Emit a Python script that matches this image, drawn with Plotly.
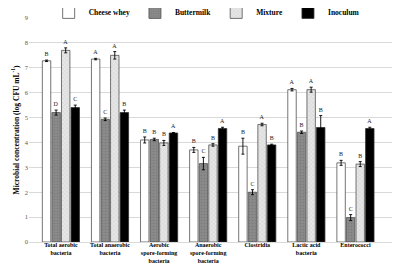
import plotly.graph_objects as go

categories = ["Total aerobic<br>bacteria", "Total anaerobic<br>bacteria",
              "Aerobic<br>spore-forming<br>bacteria", "Anaerobic<br>spore-forming<br>bacteria",
              "Clostridia", "Lactic acid<br>bacteria", "Enterococci"]

series_names = ["Cheese whey", "Buttermilk", "Mixture", "Inoculum"]

cheese_whey = [7.28, 7.35, 4.10, 3.70, 3.85, 6.12, 3.18]
buttermilk = [5.20, 4.93, 4.12, 3.15, 2.00, 4.41, 0.98]
mixture = [7.70, 7.50, 3.98, 3.90, 4.72, 6.12, 3.13]
inoculum = [5.40, 5.20, 4.38, 4.56, 3.90, 4.60, 4.56]

cheese_whey_err = [0.03, 0.03, 0.12, 0.10, 0.32, 0.05, 0.10]
buttermilk_err = [0.10, 0.05, 0.05, 0.25, 0.10, 0.05, 0.12]
mixture_err = [0.10, 0.15, 0.10, 0.05, 0.05, 0.10, 0.10]
inoculum_err = [0.10, 0.10, 0.02, 0.05, 0.03, 0.48, 0.05]

cheese_whey_letters = ["B", "A", "B", "B", "B", "A", "B"]
buttermilk_letters = ["D", "C", "B", "C", "C", "B", "C"]
mixture_letters = ["A", "A", "B", "B", "A", "A", "B"]
inoculum_letters = ["C", "B", "A", "A", "B", "B", "A"]

values = [cheese_whey, buttermilk, mixture, inoculum]
errors = [cheese_whey_err, buttermilk_err, mixture_err, inoculum_err]
letters = [cheese_whey_letters, buttermilk_letters, mixture_letters, inoculum_letters]

styles = [
    dict(color="#ffffff", line=dict(color="#505050", width=0.8)),
    dict(color="#808080", line=dict(color="#505050", width=0.8),
         pattern=dict(shape=".", size=3, solidity=0.25, fgcolor="#6a6a6a", bgcolor="#8a8a8a")),
    dict(color="#e0e0e0", line=dict(color="#505050", width=0.8),
         pattern=dict(shape="x", size=3, solidity=0.2, fgcolor="#a8a8a8", bgcolor="#e6e6e6")),
    dict(color="#000000", line=dict(color="#303030", width=0.8)),
]

FONT = "Liberation Serif"
fig = go.Figure()

for k, name in enumerate(series_names):
    fig.add_trace(go.Bar(
        x=categories, y=values[k], name=name, offsetgroup=str(k),
        marker=styles[k],
        error_y=dict(type="data", array=errors[k], color="#000000", thickness=0.9, width=1.5),
    ))

for k, name in enumerate(series_names):
    tops = [v + e for v, e in zip(values[k], errors[k])]
    fig.add_trace(go.Bar(
        x=categories, y=[0.001] * len(tops), base=tops, offsetgroup=str(k),
        marker=dict(color="rgba(0,0,0,0)", line=dict(width=0)),
        text=letters[k], textposition="outside", constraintext="none",
        textfont=dict(family=FONT, size=6, color="#222222"),
        outsidetextfont=dict(family=FONT, size=6, color="#222222"),
        cliponaxis=False, showlegend=False, hoverinfo="skip",
    ))

fig.update_layout(
    width=400, height=264,
    margin=dict(l=21, r=1, t=10, b=30, autoexpand=False),
    paper_bgcolor="white", plot_bgcolor="white",
    barmode="group", bargap=0.22, bargroupgap=0.12,
    font=dict(family=FONT, size=8, color="#000000"),
    showlegend=True,
    legend=dict(orientation="h", x=0.47, xanchor="center", y=1.025, yanchor="middle",
                font=dict(family=FONT, size=7.5, color="#000000", weight="bold"),
                bgcolor="rgba(0,0,0,0)", itemwidth=30, tracegroupgap=0),
    xaxis=dict(range=[-0.65, 7.05], showgrid=False, zeroline=False,
               showline=True, linecolor="#d9d9d9", linewidth=1,
               ticks="", ticklabelstandoff=-3,
               tickfont=dict(family=FONT, size=6, color="#000000", weight="bold"),
               tickangle=0, automargin=False),
    yaxis=dict(range=[0, 9], dtick=1, showgrid=True, gridcolor="#d9d9d9", gridwidth=1,
               zeroline=False, showline=False, ticks="",
               tickfont=dict(family=FONT, size=6.5, color="#595959"),
               automargin=False,
               title=dict(text="Microbial concentration (log CFU mL<sup>-1</sup>)",
                          font=dict(family=FONT, size=7.5, color="#000000", weight="bold"),
                          standoff=4)),
)

fig.write_html("out.html")
